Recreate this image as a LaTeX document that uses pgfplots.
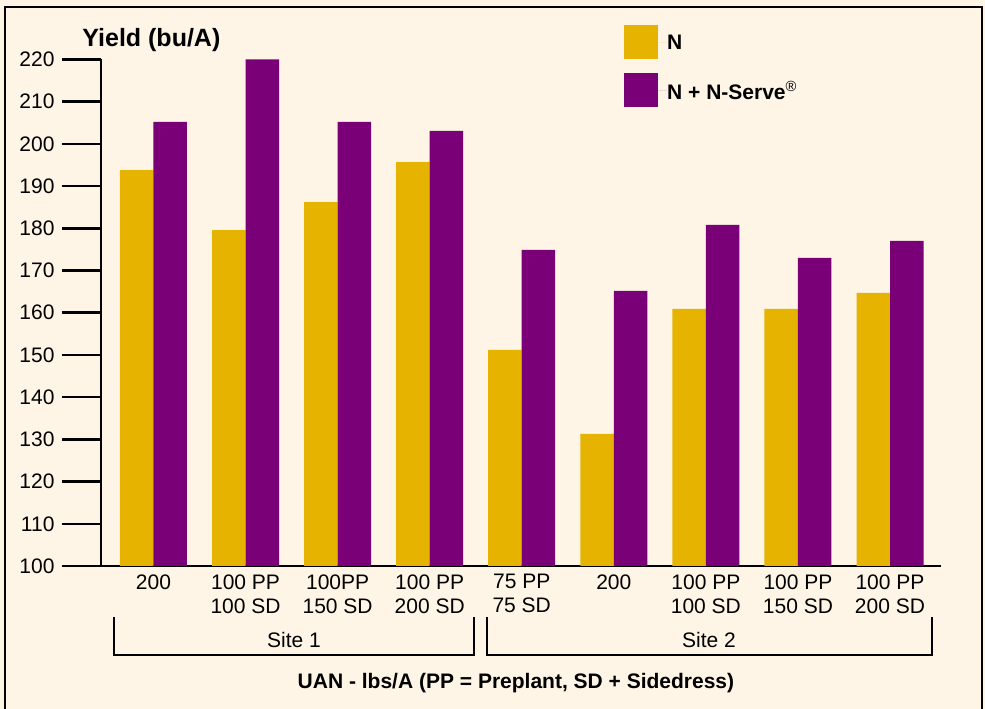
\documentclass[border=0pt]{standalone}
\usepackage{pgfplots}
\pgfplotsset{compat=1.18}
\usepackage{fontspec}
\setmainfont{Liberation Sans}
\definecolor{cream}{HTML}{FEF5E6}
\definecolor{gold}{HTML}{E6B300}
\definecolor{purp}{HTML}{7A0078}
\begin{document}
\begin{tikzpicture}
\path[use as bounding box] (0pt,0pt) rectangle (985pt,709pt);
\fill[cream] (0pt,0pt) rectangle (985pt,709pt);
\draw[line width=2.5pt] (5pt,-5pt) -- (5pt,702pt) -- (982pt,702pt) -- (982pt,-5pt);
\begin{axis}[
  at={(101pt,143pt)}, anchor=south west,
  scale only axis, width=840pt, height=506.5pt,
  axis lines*=left,
  axis line style={line width=2.5pt, black, -},
  ymin=100, ymax=220, ytick={100,110,...,220},
  xmin=-0.57, xmax=8.554,
  enlargelimits=false,
  ybar=0pt, bar width=33.5pt,
  xtick={0,...,8},
  xticklabels={200, {100 PP\\100 SD}, {100PP\\150 SD}, {100 PP\\200 SD}, {75 PP\\75 SD}, 200, {100 PP\\100 SD}, {100 PP\\150 SD}, {100 PP\\200 SD}},
  xticklabel style={align=center, font=\fontsize{21}{24}\selectfont, yshift=-5pt},
  yticklabel style={font=\fontsize{21}{24}\selectfont, xshift=-4pt},
  /pgf/number format/assume math mode=true,
  xtick style={draw=none},
  ytick style={line width=2.5pt, black},
  xtick align=inside, ytick align=outside, major tick length=39pt,
  ylabel={Yield (bu/A)},
  every axis y label/.style={at={(axis description cs:0.060,1.0385)}, anchor=center, font=\bfseries\fontsize{25}{30}\selectfont},
  xlabel={UAN - lbs/A (PP = Preplant, SD + Sidedress)},
  every axis x label/.style={at={(axis description cs:0.494,-0.232)}, anchor=center, font=\bfseries\fontsize{21}{25}\selectfont},
  legend style={at={(axis description cs:0.6226,1.068)}, anchor=north west, draw=none, fill=none,
    font=\bfseries\fontsize{21}{25}\selectfont, row sep=14pt, inner sep=0pt,
    nodes={inner sep=0pt, text depth=0pt}},
  legend cell align=left,
  clip=false,
]
\addplot[fill=gold, draw=none, legend image code/.code={\fill[gold] (0pt,-17pt) rectangle (34pt,17pt); \path (34pt,0) -- (43pt,0);}] coordinates {
(0,193.8) (1,179.6) (2,186.2) (3,195.7) (4,151.2) (5,131.3) (6,160.9) (7,160.9) (8,164.7)};
\addlegendentry{N}
\addplot[fill=purp, draw=none, legend image code/.code={\fill[purp] (0pt,-17pt) rectangle (34pt,17pt); \path (34pt,0) -- (43pt,0);}] coordinates {
(0,205.2) (1,220.0) (2,205.2) (3,203.1) (4,174.9) (5,165.2) (6,180.8) (7,173.0) (8,177.0)};
\addlegendentry{N + N-Serve\textsuperscript{\normalfont ®}}
\end{axis}
\draw[line width=2.5pt] (114pt,92pt) -- (114pt,54pt) -- (474pt,54pt) -- (474pt,92pt);
\draw[line width=2.5pt] (487pt,92pt) -- (487pt,54pt) -- (932pt,54pt) -- (932pt,92pt);
\node[font=\fontsize{21}{24}\selectfont] at (294pt,69pt) {Site 1};
\node[font=\fontsize{21}{24}\selectfont] at (709pt,69pt) {Site 2};
\end{tikzpicture}
\end{document}
